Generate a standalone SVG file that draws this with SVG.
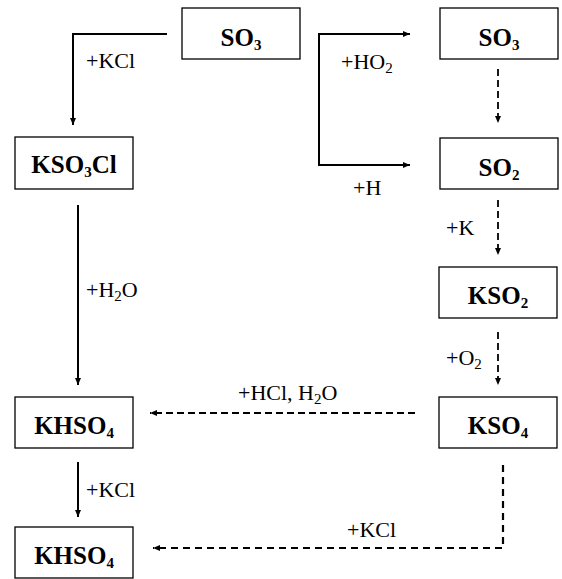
<svg xmlns="http://www.w3.org/2000/svg" width="562" height="579" viewBox="0 0 562 579">
<defs>
<style>
.box{fill:#fff;stroke:#000;stroke-width:1.3}
.nt{font-family:"Liberation Serif","Times New Roman",serif;font-weight:bold;font-size:25px;fill:#000;text-anchor:middle}
.lb{font-family:"Liberation Serif","Times New Roman",serif;font-size:22px;fill:#000}
.sub{font-size:15px}
.solid{fill:none;stroke:#000;stroke-width:2}
.dash{fill:none;stroke:#000;stroke-width:1.8;stroke-dasharray:7 4}
.dash2{fill:none;stroke:#000;stroke-width:2.2;stroke-dasharray:7 5}
</style>
<marker id="ah" viewBox="0 0 10 10" refX="10" refY="5" markerWidth="7" markerHeight="6" markerUnits="userSpaceOnUse" orient="auto" preserveAspectRatio="none">
<path d="M0,0 L10,5 L0,10 z" fill="#000"/>
</marker>
</defs>
<rect width="562" height="579" fill="#fff"/>
<g id="connectors">
<path class="solid" d="M167,34 H73 V125" marker-end="url(#ah)"/>
<path class="solid" d="M78,205 V385" marker-end="url(#ah)"/>
<path class="solid" d="M78,462 V517" marker-end="url(#ah)"/>
<path class="solid" d="M410,34 H319 V165 H410" marker-end="url(#ah)"/>
<path class="solid" d="M319,34 H410" marker-end="url(#ah)"/>
<path class="dash" d="M498,69 V123" marker-end="url(#ah)"/>
<path class="dash" d="M498,200 V255" marker-end="url(#ah)"/>
<path class="dash" d="M498,332 V385" marker-end="url(#ah)"/>
<path class="dash" d="M415,413 H150" marker-end="url(#ah)"/>
<path class="dash2" d="M503,465 V548 H153" marker-end="url(#ah)"/>
<text class="lb" x="86" y="68">+KCl</text>
<text class="lb" x="86" y="297">+H<tspan class="sub" dy="4">2</tspan><tspan dy="-4">O</tspan></text>
<text class="lb" x="86" y="497">+KCl</text>
<text class="lb" x="341" y="69">+HO<tspan class="sub" dy="4">2</tspan></text>
<text class="lb" x="353" y="195">+H</text>
<text class="lb" x="446" y="235">+K</text>
<text class="lb" x="446" y="365">+O<tspan class="sub" dy="4">2</tspan></text>
<text class="lb" x="238" y="400">+HCl, H<tspan class="sub" dy="4">2</tspan><tspan dy="-4">O</tspan></text>
<text class="lb" x="347" y="537">+KCl</text>
</g>
<g id="so3-left"><rect class="box" x="182" y="8" width="118" height="51"/><text class="nt" x="241" y="46">SO<tspan class="sub" dy="4">3</tspan></text></g>
<g id="kso3cl"><rect class="box" x="15" y="137" width="118" height="52"/><text class="nt" x="74" y="173">KSO<tspan class="sub" dy="4">3</tspan><tspan dy="-4">Cl</tspan></text></g>
<g id="khso4-a"><rect class="box" x="15" y="397" width="118" height="51"/><text class="nt" x="74" y="434">KHSO<tspan class="sub" dy="4">4</tspan></text></g>
<g id="khso4-b"><rect class="box" x="15" y="527" width="118" height="51"/><text class="nt" x="74" y="564">KHSO<tspan class="sub" dy="4">4</tspan></text></g>
<g id="so3-right"><rect class="box" x="440" y="8" width="118" height="51"/><text class="nt" x="499" y="46">SO<tspan class="sub" dy="4">3</tspan></text></g>
<g id="so2"><rect class="box" x="440" y="138" width="118" height="51"/><text class="nt" x="499" y="176">SO<tspan class="sub" dy="4">2</tspan></text></g>
<g id="kso2"><rect class="box" x="439" y="267" width="118" height="51"/><text class="nt" x="498" y="304">KSO<tspan class="sub" dy="4">2</tspan></text></g>
<g id="kso4"><rect class="box" x="439" y="397" width="118" height="51"/><text class="nt" x="498" y="434">KSO<tspan class="sub" dy="4">4</tspan></text></g>
</svg>
